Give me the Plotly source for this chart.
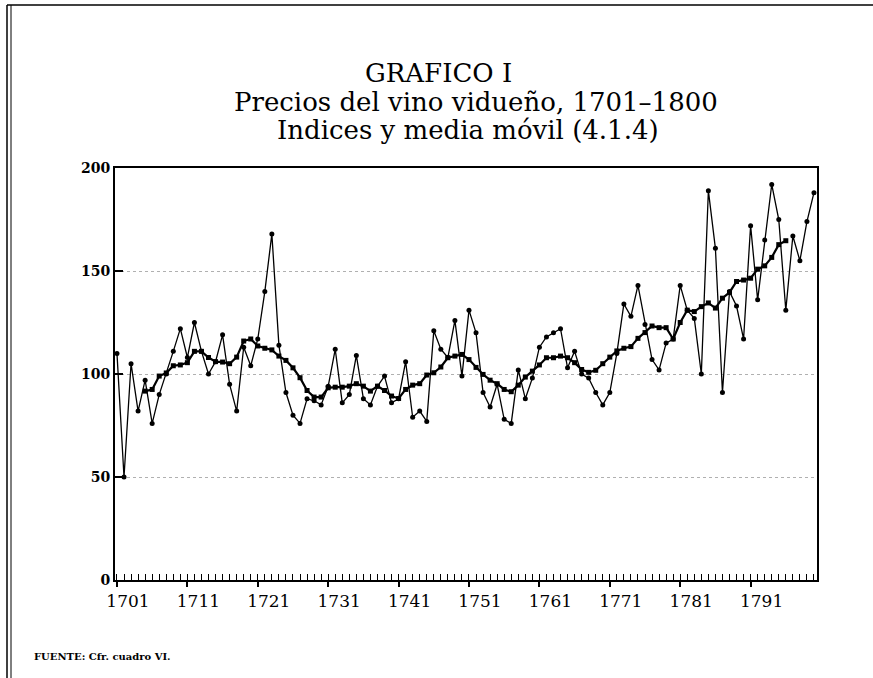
import plotly.graph_objects as go

years = list(range(1701, 1801))
indices = [110, 50, 105, 82, 97, 76, 90, 100, 111, 122,
           108, 125, 111, 100, 106, 119, 95, 82, 113, 104,
           117, 140, 168, 114, 91, 80, 76, 88, 87, 85,
           94, 112, 86, 90, 109, 88, 85, 94, 99, 86,
           88, 106, 79, 82, 77, 121, 112, 108, 126, 99,
           131, 120, 91, 84, 95, 78, 76, 102, 88, 98,
           113, 118, 120, 122, 103, 111, 100, 98, 91, 85,
           91, 110, 134, 128, 143, 124, 107, 102, 115, 117,
           143, 131, 127, 100, 189, 161, 91, 140, 133, 117,
           172, 136, 165, 192, 175, 131, 167, 155, 174, 188]

ma_years = list(range(1705, 1797))
media_movil = [91.7, 92.5, 99, 100.5, 104, 104.4, 105.5, 111, 111, 108,
               106, 105.8, 105, 108.2, 116, 117, 113.6, 112.5, 111.7, 108.7,
               106.6, 103, 98.2, 92, 88.8, 88.8, 93.3, 93.6, 93.6, 94.1,
               95.3, 94.1, 91.7, 94.1, 92, 89.3, 88.1, 92.5, 94.6, 95.3,
               99.5, 100.6, 103.4, 107.9, 108.7, 109.5, 107, 103.2, 99.8, 97,
               95.3, 92.5, 91.4, 94.6, 98.5, 101.4, 104.4, 107.9, 107.9, 108.7,
               107.9, 105.5, 102.2, 100.8, 101.8, 105, 108.2, 111.2, 112.5, 113.3,
               117.3, 120.1, 123.3, 122.5, 122.5, 117, 125, 131, 130.3, 132.7,
               134.5, 132, 136.8, 139.6, 144.9, 145.6, 146.5, 150.9, 152.5, 156.6,
               162.8, 164.7]

x_ticks = list(range(1701, 1800, 10))
y_ticks = [0, 50, 100, 150, 200]

title_lines = ["GRAFICO I", "Precios del vino vidueño, 1701–1800", "Indices y media móvil (4.1.4)"]
source_text = "FUENTE: Cfr. cuadro VI."

SERIF = "DejaVu Serif"
W, H = 873, 678
L, R, T, B = 115, 56, 168, 98
PW, PH = W - L - R, H - T - B


def px(x):
    return (x - L) / PW


def py(y):
    return (H - B - y) / PH


fig = go.Figure()
fig.add_trace(go.Scatter(
    x=years, y=indices, mode="lines+markers", name="Indices",
    line=dict(color="black", width=1.3),
    marker=dict(color="black", size=5, symbol="circle"),
    showlegend=False, hoverinfo="skip"))
fig.add_trace(go.Scatter(
    x=ma_years, y=media_movil, mode="lines+markers", name="Media móvil",
    line=dict(color="black", width=2.2),
    marker=dict(color="black", size=5, symbol="square"),
    showlegend=False, hoverinfo="skip"))

title_annots = []
for text, cx, cy in zip(title_lines, [438, 476, 468], [73, 102, 130]):
    title_annots.append(dict(text=text, xref="paper", yref="paper", x=px(cx), y=py(cy),
                             xanchor="center", yanchor="middle", showarrow=False,
                             font=dict(family=SERIF, size=26, color="black")))

fig.update_layout(
    width=W, height=H,
    paper_bgcolor="white", plot_bgcolor="white",
    margin=dict(l=L, r=R, t=T, b=B),
    xaxis=dict(range=[1700.72, 1800.43], tickvals=x_ticks,
               ticktext=[str(v) for v in x_ticks],
               ticks="outside", ticklen=5, tickwidth=1.5, tickcolor="black",
               ticklabelshift=11,
               showline=True, linecolor="black", linewidth=2, mirror=True,
               showgrid=False, zeroline=False,
               tickfont=dict(family=SERIF, size=17, color="black"),
               minor=dict(dtick=1, tick0=1701, ticks="inside", ticklen=6,
                          tickwidth=1, tickcolor="black", showgrid=False)),
    yaxis=dict(range=[0, 200], tickvals=y_ticks,
               ticktext=[str(v) for v in y_ticks],
               ticks="inside", ticklen=8, tickwidth=1.5, tickcolor="black",
               showline=True, linecolor="black", linewidth=2, mirror=True,
               showgrid=True, gridcolor="#b0b0b0", griddash="dot", gridwidth=1,
               zeroline=False,
               tickfont=dict(family=SERIF, size=14, color="black", weight="bold")),
    annotations=title_annots + [
        dict(text=source_text, xref="paper", yref="paper",
             x=px(32), y=py(656), xanchor="left", yanchor="middle", showarrow=False,
             font=dict(family=SERIF, size=10, color="black", weight="bold"))],
    shapes=[
        dict(type="line", xref="paper", yref="paper", x0=px(7), x1=px(873),
             y0=py(5), y1=py(5), line=dict(color="black", width=1.5)),
        dict(type="line", xref="paper", yref="paper", x0=px(7), x1=px(7),
             y0=py(5), y1=py(678), line=dict(color="black", width=1.5)),
        dict(type="line", xref="paper", yref="paper", x0=px(11), x1=px(11),
             y0=py(5), y1=py(678), line=dict(color="black", width=1)),
    ],
)

fig.write_html("out.html", config={"displayModeBar": False},
               post_script="document.body.style.margin='0';")
